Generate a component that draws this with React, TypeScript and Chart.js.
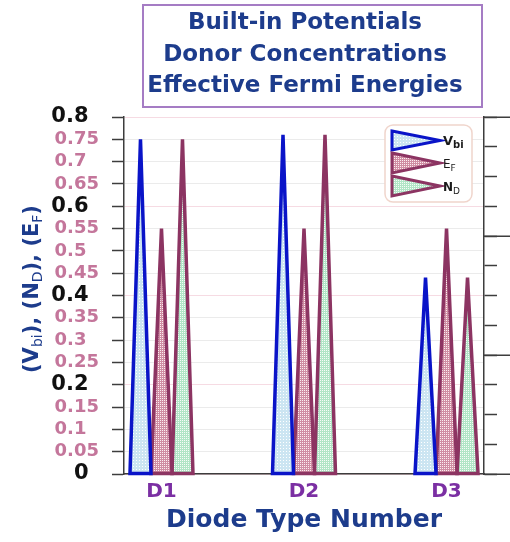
import React, { useEffect, useRef } from 'react';
import { Chart, registerables } from 'chart.js';

Chart.register(...registerables);

const FONT = '"DejaVu Sans", "Liberation Sans", sans-serif';

// ---------- data ----------
const CATEGORIES = ['D1', 'D2', 'D3'];
const CATEGORY_X = [1, 2, 3];
const VBI = [0.75, 0.76, 0.44];
const EF = [0.55, 0.55, 0.55];
const ND = [0.75, 0.76, 0.44];
const Y_TICKS = [0, 0.05, 0.1, 0.15, 0.2, 0.25, 0.3, 0.35, 0.4, 0.45, 0.5, 0.55, 0.6, 0.65, 0.7, 0.75, 0.8];
const Y_MAJOR = [0, 0.2, 0.4, 0.6, 0.8];
const RIGHT_TICKS = [0, 1, 2, 3, 4, 5, 6, 7, 8, 9, 10, 11, 12];
const RIGHT_MAJOR = [0, 4, 8, 12];
const TITLE_LINES = ['Built-in Potentials', 'Donor Concentrations', 'Effective Fermi Energies'];
const X_TITLE = 'Diode Type Number';
const Y_TITLE_PARTS: [string, boolean][] = [
  ['(V', false], ['bi', true], ['), (N', false], ['D', true], ['), (E', false], ['F', true], [')', false],
];
const LEGEND_LABELS = [
  { main: 'V', sub: 'bi' },
  { main: 'E', sub: 'F' },
  { main: 'N', sub: 'D' },
];

const DARK_BLUE = '#1d3c8c';
const AXIS = '#3d3d3d';

function isMajor(v: number) {
  return Y_MAJOR.some((m) => Math.abs(m - v) < 1e-6);
}

function makePattern(base: string, dot: string, size: number, dots: number[][]) {
  const c = document.createElement('canvas');
  c.width = size;
  c.height = size;
  const g = c.getContext('2d')!;
  g.fillStyle = base;
  g.fillRect(0, 0, size, size);
  g.fillStyle = dot;
  dots.forEach(([x, y]) => g.fillRect(x, y, 1, 1));
  return g.createPattern(c, 'repeat')!;
}

function drawTri(ctx: CanvasRenderingContext2D, pts: number[][], fill: any, stroke: string, lw: number) {
  ctx.beginPath();
  ctx.moveTo(pts[0][0], pts[0][1]);
  ctx.lineTo(pts[1][0], pts[1][1]);
  ctx.lineTo(pts[2][0], pts[2][1]);
  ctx.closePath();
  ctx.fillStyle = fill;
  ctx.fill();
  ctx.lineWidth = lw;
  ctx.strokeStyle = stroke;
  ctx.lineJoin = 'miter';
  ctx.stroke();
}

function drawSubText(
  ctx: CanvasRenderingContext2D,
  parts: [string, boolean][],
  x: number,
  y: number,
  mainFont: string,
  subFont: string,
  subDy: number,
  align: 'left' | 'center'
) {
  ctx.textBaseline = 'alphabetic';
  ctx.textAlign = 'left';
  let total = 0;
  parts.forEach(([t, s]) => {
    ctx.font = s ? subFont : mainFont;
    total += ctx.measureText(t).width;
  });
  let cx = align === 'center' ? x - total / 2 : x;
  parts.forEach(([t, s]) => {
    ctx.font = s ? subFont : mainFont;
    ctx.fillText(t, cx, s ? y + subDy : y);
    cx += ctx.measureText(t).width;
  });
}

const trianglePlugin = {
  id: 'triangleBars',
  beforeDatasetDraw(chart: any, args: any) {
    const ctx = chart.ctx as CanvasRenderingContext2D;
    const ds = chart.data.datasets[args.index];
    ctx.save();
    args.meta.data.forEach((el: any) => {
      const { x, y, base, width } = el.getProps(['x', 'y', 'base', 'width'], true);
      drawTri(
        ctx,
        [
          [x - width / 2, base],
          [x, y],
          [x + width / 2, base],
        ],
        ds.backgroundColor,
        ds.borderColor,
        ds.borderWidth
      );
    });
    ctx.restore();
    return false;
  },
};

const decorPlugin = {
  id: 'decor',
  afterDraw(chart: any) {
    const ctx = chart.ctx as CanvasRenderingContext2D;
    ctx.save();

    // title box
    ctx.fillStyle = '#ffffff';
    ctx.fillRect(143, 5, 339, 102);
    ctx.strokeStyle = '#a57cc4';
    ctx.lineWidth = 2;
    ctx.strokeRect(143, 5, 339, 102);
    ctx.fillStyle = DARK_BLUE;
    ctx.font = `bold 23px ${FONT}`;
    ctx.textAlign = 'center';
    ctx.textBaseline = 'alphabetic';
    const baselines = [28.5, 60.5, 92];
    TITLE_LINES.forEach((t, i) => ctx.fillText(t, 305, baselines[i]));

    // y axis title (rotated, with subscripts)
    ctx.save();
    ctx.translate(38, 289);
    ctx.rotate(-Math.PI / 2);
    ctx.fillStyle = DARK_BLUE;
    drawSubText(ctx, Y_TITLE_PARTS, 0, 0, `bold 21px ${FONT}`, `14px ${FONT}`, 4, 'center');
    ctx.restore();

    // right axis long ticks
    const s2 = chart.scales.y2;
    ctx.strokeStyle = AXIS;
    ctx.lineWidth = 1.5;
    ctx.beginPath();
    RIGHT_MAJOR.forEach((v) => {
      const py = Math.round(s2.getPixelForValue(v)) + 0.25;
      ctx.moveTo(s2.left, py);
      ctx.lineTo(chart.width, py);
    });
    ctx.stroke();

    // legend
    const lx = 385, ly = 125, lw = 87, lh = 77;
    ctx.beginPath();
    ctx.roundRect(lx, ly, lw, lh, 8);
    ctx.fillStyle = '#ffffff';
    ctx.fill();
    ctx.strokeStyle = '#f0d5cc';
    ctx.lineWidth = 1.5;
    ctx.stroke();
    const rows = [
      { top: 131, bottom: 150, base: 145 },
      { top: 153, bottom: 173, base: 167.5 },
      { top: 176, bottom: 196, base: 190.5 },
    ];
    const fonts = [
      [`bold 13px ${FONT}`, `bold 10px ${FONT}`],
      [`12px ${FONT}`, `9px ${FONT}`],
      [`bold 12px ${FONT}`, `9px ${FONT}`],
    ];
    chart.data.datasets.forEach((ds: any, i: number) => {
      const r = rows[i];
      drawTri(
        ctx,
        [
          [392, r.top],
          [440, (r.top + r.bottom) / 2],
          [392, r.bottom],
        ],
        ds.backgroundColor,
        ds.borderColor,
        3
      );
      ctx.fillStyle = '#1a1a1a';
      drawSubText(
        ctx,
        [
          [LEGEND_LABELS[i].main, false],
          [LEGEND_LABELS[i].sub, true],
        ],
        443,
        r.base,
        fonts[i][0],
        fonts[i][1],
        3,
        'left'
      );
    });

    ctx.restore();
  },
};

export default function App() {
  const ref = useRef<HTMLCanvasElement>(null);

  useEffect(() => {
    const canvas = ref.current!;
    const pVbi = makePattern('#cce5f2', '#ffffff', 3, [[1, 1]]);
    const pEf = makePattern('#d08da3', '#fbeef1', 2, [[0, 0]]);
    const pNd = makePattern('#b1e5c6', '#f6fcf8', 2, [[0, 0]]);

    const common = { categoryPercentage: 0.442, barPercentage: 1, borderWidth: 3.5, xAxisID: 'x', yAxisID: 'y' };

    const chart = new Chart(canvas, {
      type: 'bar',
      data: {
        datasets: [
          { ...common, label: 'Vbi', data: CATEGORY_X.map((x, i) => ({ x, y: VBI[i] })), backgroundColor: pVbi, borderColor: '#0a14c8' },
          { ...common, label: 'EF', data: CATEGORY_X.map((x, i) => ({ x, y: EF[i] })), backgroundColor: pEf, borderColor: '#8c3462' },
          { ...common, label: 'ND', data: CATEGORY_X.map((x, i) => ({ x, y: ND[i] })), backgroundColor: pNd, borderColor: '#8c3462' },
        ] as any,
      },
      options: {
        animation: false,
        responsive: true,
        maintainAspectRatio: false,
        layout: { padding: { top: 117, left: 0, right: 0, bottom: 0 } },
        plugins: { legend: { display: false }, tooltip: { enabled: false }, title: { display: false } },
        scales: {
          x: {
            type: 'linear',
            min: 0.737,
            max: 3.263,
            offset: false,
            afterBuildTicks: (s: any) => {
              s.ticks = CATEGORY_X.map((v) => ({ value: v }));
            },
            afterFit: (s: any) => {
              s.height = 68;
            },
            grid: { display: false, drawTicks: false, offset: false },
            border: { display: true, color: AXIS, width: 1.5 },
            ticks: {
              autoSkip: false,
              maxRotation: 0,
              padding: 6,
              color: '#7b2fa3',
              font: { family: FONT, size: 20, weight: 'bold' },
              callback: (v: any) => {
                const idx = CATEGORY_X.indexOf(Number(v));
                return idx >= 0 ? CATEGORIES[idx] : '';
              },
            },
            title: {
              display: true,
              text: X_TITLE,
              color: DARK_BLUE,
              font: { family: FONT, size: 25, weight: 'bold' },
              padding: { top: 0, bottom: 7 },
            },
          },
          y: {
            type: 'linear',
            position: 'left',
            min: 0,
            max: 0.8,
            afterBuildTicks: (s: any) => {
              s.ticks = Y_TICKS.map((v) => ({ value: v }));
            },
            afterFit: (s: any) => {
              s.width = 124;
            },
            grid: {
              color: (c: any) => (c.tick && isMajor(c.tick.value) ? '#f6dbe3' : '#ebebeb'),
              lineWidth: 1,
              drawTicks: true,
              tickLength: 12,
              tickColor: AXIS,
              tickWidth: 1.5,
            },
            border: { display: true, color: AXIS, width: 1.5 },
            ticks: {
              autoSkip: false,
              padding: 13,
              color: (c: any) => (c.tick && isMajor(c.tick.value) ? '#111111' : '#c4769b'),
              font: (c: any) =>
                c.tick && isMajor(c.tick.value)
                  ? { family: FONT, size: 21, weight: 'bold' }
                  : { family: FONT, size: 18, weight: 'bold' },
              callback: (v: any) => {
                const n = Math.round(Number(v) * 100) / 100;
                const s = n === 0 ? '0' : String(n);
                if (isMajor(n)) return s + '\u2002';
                return s.length === 3 ? s + '\u2007' : s;
              },
            },
          },
          y2: {
            type: 'linear',
            position: 'right',
            min: 0,
            max: 12,
            afterBuildTicks: (s: any) => {
              s.ticks = RIGHT_TICKS.map((v) => ({ value: v }));
            },
            afterFit: (s: any) => {
              s.width = 26;
            },
            grid: { drawOnChartArea: false, drawTicks: true, tickLength: 13, tickColor: AXIS, tickWidth: 1.5 },
            border: { display: true, color: AXIS, width: 1.5 },
            ticks: { display: false },
          },
        },
      } as any,
      plugins: [trianglePlugin, decorPlugin],
    });

    return () => chart.destroy();
  }, []);

  return (
    <div style={{ position: 'fixed', left: 0, top: 0, width: 510, height: 542 }}>
      <canvas ref={ref} />
    </div>
  );
}
